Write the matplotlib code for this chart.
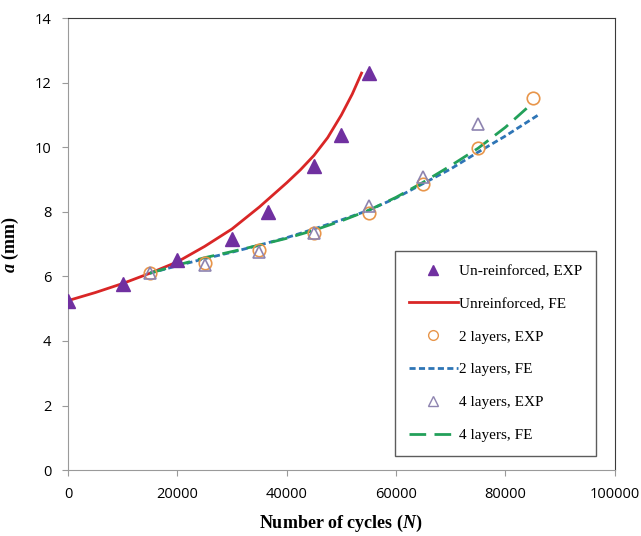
import matplotlib.pyplot as plt
from matplotlib.lines import Line2D

plt.rcParams['mathtext.fontset'] = 'custom'
plt.rcParams['mathtext.bfit'] = 'Liberation Serif:bold:italic'
plt.rcParams['mathtext.it'] = 'Liberation Serif:bold:italic'

# experimental points
N_unr = [0, 10000, 20000, 30000, 36500, 45000, 50000, 55000]
a_unr = [5.25, 5.78, 6.52, 7.15, 8.0, 9.42, 10.38, 12.3]

N_2l = [15000, 25000, 35000, 45000, 55000, 65000, 75000, 85000]
a_2l = [6.1, 6.42, 6.82, 7.34, 7.98, 8.85, 9.97, 11.52]

N_4l = [15000, 25000, 35000, 45000, 55000, 65000, 75000]
a_4l = [6.1, 6.35, 6.75, 7.35, 8.18, 9.08, 10.72]

# FE curves
N_unr_fe = [0, 5000, 10000, 15000, 20000, 25000, 30000, 35000, 40000, 42500,
            45000, 47500, 50000, 52000, 53700]
a_unr_fe = [5.25, 5.5, 5.78, 6.1, 6.45, 6.93, 7.47, 8.15, 8.9, 9.3,
            9.75, 10.3, 11.0, 11.65, 12.3]

N_2l_fe = [15000, 20000, 25000, 30000, 35000, 40000, 45000, 50000, 55000,
           60000, 65000, 70000, 75000, 80000, 86000]
a_2l_fe = [6.1, 6.33, 6.55, 6.75, 6.97, 7.2, 7.47, 7.75, 8.05, 8.43,
           8.88, 9.33, 9.85, 10.35, 11.0]

N_4l_fe = [15000, 20000, 25000, 30000, 35000, 40000, 45000, 50000, 55000,
           60000, 65000, 70000, 75000, 80000, 84100]
a_4l_fe = [6.1, 6.35, 6.58, 6.77, 6.97, 7.18, 7.43, 7.72, 8.05, 8.45,
           8.92, 9.43, 9.97, 10.62, 11.24]

c_unr = '#7030A0'
c_red = '#D92626'
c_orange = '#E8954A'
c_blue = '#2E75B6'
c_tri = '#8E84B0'
c_green = '#22A05A'

fig = plt.figure(figsize=(6.41, 5.36), dpi=100)
ax = fig.add_axes([0.106, 0.123, 0.853, 0.843])

ax.plot(N_unr_fe, a_unr_fe, color=c_red, lw=2, zorder=2)
ax.plot(N_2l_fe, a_2l_fe, color=c_blue, lw=2, ls=(0, (2.2, 1.2)), zorder=2)
ax.plot(N_4l_fe, a_4l_fe, color=c_green, lw=2, ls=(0, (6, 3)), zorder=2)
ax.plot(N_2l, a_2l, 'o', mfc='none', mec=c_orange, ms=9, mew=1.2, ls='none', zorder=3)
ax.plot(N_4l, a_4l, '^', mfc='none', mec=c_tri, ms=9, mew=1.2, ls='none', zorder=3)
ax.plot(N_unr, a_unr, '^', color=c_unr, ms=10, ls='none', zorder=4)

ax.set_xlim(0, 100000)
ax.set_ylim(0, 14)
ax.set_xticks([0, 20000, 40000, 60000, 80000, 100000])
ax.set_yticks([0, 2, 4, 6, 8, 10, 12, 14])

for s in ['left', 'bottom']:
    ax.spines[s].set_color('#9a9a9a')
for s in ['top', 'right']:
    ax.spines[s].set_color('#3a3a3a')
ax.tick_params(direction='out', length=4, color='#9a9a9a', labelsize=10.5, pad=8)
for lab in ax.get_xticklabels() + ax.get_yticklabels():
    lab.set_fontfamily('Open Sans')

ax.set_xlabel('Number of cycles ($\\it{N}$)', family='Liberation Serif',
              fontsize=13, fontweight='bold', labelpad=8)
ax.set_ylabel('$\\it{a}$ (mm)', family='Liberation Serif',
              fontsize=13, fontweight='bold', labelpad=10)

handles = [
    Line2D([], [], marker='^', color=c_unr, ls='none', ms=7),
    Line2D([], [], color=c_red, lw=2),
    Line2D([], [], marker='o', mfc='none', mec=c_orange, ls='none', ms=7),
    Line2D([], [], color=c_blue, lw=2, ls=(0, (2.2, 1.2))),
    Line2D([], [], marker='^', mfc='none', mec=c_tri, ls='none', ms=7),
    Line2D([], [], color=c_green, lw=2, ls=(0, (6, 3))),
]
labels = ['Un-reinforced, EXP', 'Unreinforced, FE', '2 layers, EXP',
          '2 layers, FE', '4 layers, EXP', '4 layers, FE']
leg = ax.legend(handles, labels, loc='lower right', bbox_to_anchor=(0.98, 0.015),
                prop={'family': 'Liberation Serif', 'size': 11}, frameon=True,
                fancybox=False, edgecolor='#333333', handlelength=3.2,
                handletextpad=0.1, labelspacing=1.25, borderpad=0.9)
leg.get_frame().set_linewidth(1.0)

fig.savefig('out.png', dpi=100)
